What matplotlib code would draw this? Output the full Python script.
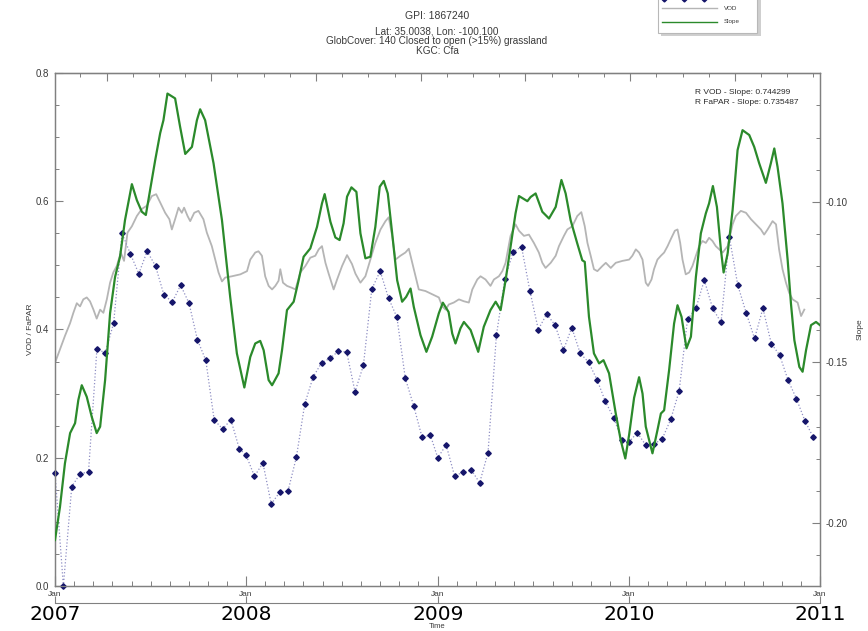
import datetime as dt
import matplotlib
matplotlib.use('Agg')
import matplotlib.pyplot as plt
import matplotlib.dates as mdates
from matplotlib.ticker import MultipleLocator, FixedLocator, NullFormatter, FormatStrFormatter
from matplotlib.patches import Rectangle
from matplotlib.lines import Line2D

plt.rcParams['font.family'] = ['Liberation Sans', 'DejaVu Sans']

# ---------------- data ----------------
vod_t = [2007.000, 2007.026, 2007.052, 2007.079, 2007.096, 2007.114, 2007.131, 2007.148, 2007.166, 2007.183,
         2007.201, 2007.218, 2007.236, 2007.253, 2007.271, 2007.288, 2007.305, 2007.323, 2007.344, 2007.361,
         2007.379, 2007.402, 2007.428, 2007.454, 2007.480, 2007.506, 2007.529, 2007.550, 2007.576, 2007.598,
         2007.611, 2007.628, 2007.646, 2007.663, 2007.675, 2007.693, 2007.707, 2007.728, 2007.750, 2007.776,
         2007.794, 2007.820, 2007.838, 2007.855, 2007.873, 2007.890, 2007.925, 2007.969, 2008.004, 2008.021,
         2008.047, 2008.064, 2008.082, 2008.099, 2008.117, 2008.135, 2008.152, 2008.169, 2008.178, 2008.192,
         2008.213, 2008.239, 2008.257, 2008.283, 2008.309, 2008.335, 2008.361, 2008.379, 2008.396, 2008.414,
         2008.431, 2008.457, 2008.475, 2008.501, 2008.527, 2008.553, 2008.571, 2008.597, 2008.623, 2008.649,
         2008.675, 2008.702, 2008.728, 2008.745, 2008.763, 2008.780, 2008.806, 2008.832, 2008.850, 2008.876,
         2008.902, 2008.937, 2008.972, 2009.007, 2009.025, 2009.042, 2009.059, 2009.085, 2009.112, 2009.138,
         2009.164, 2009.182, 2009.208, 2009.225, 2009.251, 2009.277, 2009.295, 2009.321, 2009.339, 2009.356,
         2009.382, 2009.408, 2009.426, 2009.452, 2009.478, 2009.504, 2009.530, 2009.548, 2009.565, 2009.592,
         2009.618, 2009.635, 2009.661, 2009.679, 2009.705, 2009.731, 2009.752, 2009.770, 2009.784, 2009.801,
         2009.818, 2009.836, 2009.862, 2009.880, 2009.906, 2009.932, 2009.967, 2010.002, 2010.019, 2010.037,
         2010.054, 2010.072, 2010.089, 2010.101, 2010.119, 2010.132, 2010.150, 2010.168, 2010.185, 2010.203,
         2010.220, 2010.241, 2010.255, 2010.269, 2010.281, 2010.298, 2010.316, 2010.333, 2010.351, 2010.368,
         2010.386, 2010.403, 2010.420, 2010.438, 2010.455, 2010.473, 2010.491, 2010.517, 2010.543, 2010.560,
         2010.586, 2010.613, 2010.639, 2010.665, 2010.691, 2010.708, 2010.726, 2010.752, 2010.770, 2010.786,
         2010.804, 2010.822, 2010.839, 2010.857, 2010.883, 2010.901, 2010.918]
vod_v = [0.348, 0.369, 0.390, 0.410, 0.426, 0.441, 0.436, 0.447, 0.450, 0.444,
         0.431, 0.417, 0.431, 0.426, 0.447, 0.473, 0.489, 0.499, 0.520, 0.507,
         0.551, 0.561, 0.577, 0.588, 0.593, 0.608, 0.611, 0.598, 0.582, 0.572,
         0.556, 0.572, 0.590, 0.582, 0.590, 0.577, 0.569, 0.582, 0.585, 0.572,
         0.551, 0.530, 0.509, 0.489, 0.475, 0.481, 0.483, 0.486, 0.491, 0.509,
         0.520, 0.522, 0.515, 0.483, 0.468, 0.4625, 0.468, 0.476, 0.494, 0.473,
         0.468, 0.465, 0.4625, 0.489, 0.499, 0.512, 0.515, 0.525, 0.530, 0.504,
         0.487, 0.4625, 0.478, 0.499, 0.516, 0.502, 0.487, 0.473, 0.483, 0.509,
         0.535, 0.556, 0.569, 0.575, 0.546, 0.509, 0.515, 0.520, 0.526, 0.494,
         0.4625, 0.460, 0.455, 0.450, 0.436, 0.431, 0.439, 0.442, 0.447, 0.444,
         0.442, 0.4625, 0.478, 0.483, 0.478, 0.468, 0.478, 0.483, 0.491, 0.504,
         0.546, 0.564, 0.554, 0.546, 0.548, 0.535, 0.520, 0.504, 0.496, 0.504,
         0.515, 0.530, 0.546, 0.556, 0.561, 0.577, 0.583, 0.561, 0.535, 0.515,
         0.494, 0.491, 0.499, 0.504, 0.496, 0.504, 0.507, 0.509, 0.515, 0.525,
         0.520, 0.509, 0.473, 0.468, 0.478, 0.494, 0.509, 0.515, 0.520, 0.530,
         0.541, 0.554, 0.556, 0.535, 0.509, 0.486, 0.489, 0.499, 0.515, 0.530,
         0.538, 0.535, 0.543, 0.538, 0.530, 0.525, 0.520, 0.530, 0.564, 0.577,
         0.585, 0.582, 0.572, 0.564, 0.556, 0.548, 0.556, 0.569, 0.564, 0.525,
         0.494, 0.473, 0.457, 0.447, 0.442, 0.421, 0.431]

slope_t = [2007.000, 2007.026, 2007.052, 2007.079, 2007.105, 2007.122, 2007.140, 2007.166, 2007.192, 2007.218,
           2007.236, 2007.262, 2007.288, 2007.314, 2007.340, 2007.366, 2007.402, 2007.428, 2007.454, 2007.475,
           2007.497, 2007.524, 2007.550, 2007.567, 2007.588, 2007.628, 2007.654, 2007.681, 2007.716, 2007.742,
           2007.759, 2007.785, 2007.829, 2007.873, 2007.916, 2007.951, 2007.990, 2008.021, 2008.047, 2008.073,
           2008.091, 2008.117, 2008.135, 2008.169, 2008.187, 2008.213, 2008.248, 2008.274, 2008.300, 2008.335,
           2008.370, 2008.396, 2008.410, 2008.440, 2008.466, 2008.488, 2008.509, 2008.527, 2008.550, 2008.576,
           2008.597, 2008.623, 2008.649, 2008.675, 2008.698, 2008.719, 2008.740, 2008.763, 2008.789, 2008.815,
           2008.836, 2008.859, 2008.876, 2008.911, 2008.942, 2008.972, 2009.007, 2009.028, 2009.058, 2009.077,
           2009.094, 2009.120, 2009.138, 2009.173, 2009.213, 2009.242, 2009.277, 2009.304, 2009.330, 2009.356,
           2009.382, 2009.408, 2009.426, 2009.445, 2009.470, 2009.487, 2009.513, 2009.548, 2009.583, 2009.618,
           2009.648, 2009.670, 2009.696, 2009.731, 2009.757, 2009.770, 2009.792, 2009.818, 2009.845, 2009.868,
           2009.897, 2009.932, 2009.958, 2009.982, 2010.002, 2010.028, 2010.054, 2010.072, 2010.089, 2010.124,
           2010.150, 2010.168, 2010.185, 2010.211, 2010.237, 2010.255, 2010.276, 2010.302, 2010.325, 2010.351,
           2010.377, 2010.403, 2010.420, 2010.440, 2010.461, 2010.482, 2010.496, 2010.517, 2010.543, 2010.569,
           2010.595, 2010.630, 2010.656, 2010.682, 2010.717, 2010.743, 2010.761, 2010.778, 2010.804, 2010.831,
           2010.848, 2010.866, 2010.892, 2010.909, 2010.927, 2010.953, 2010.979, 2011.000]
slope_v = [-0.2053, -0.1950, -0.1814, -0.1720, -0.1689, -0.1617, -0.1571, -0.1607, -0.1669, -0.1720,
           -0.1700, -0.1555, -0.1347, -0.1234, -0.1171, -0.1057, -0.0945, -0.0995, -0.1031, -0.1041,
           -0.0964, -0.0870, -0.0786, -0.0746, -0.0663, -0.0678, -0.0766, -0.0851, -0.0829, -0.0746,
           -0.0712, -0.0746, -0.0880, -0.1057, -0.1296, -0.1472, -0.1578, -0.1483, -0.1441, -0.1433,
           -0.1462, -0.1555, -0.1571, -0.1534, -0.1462, -0.1337, -0.1311, -0.1244, -0.1171, -0.1145,
           -0.1078, -0.1005, -0.0976, -0.1062, -0.1111, -0.1119, -0.1067, -0.0984, -0.0955, -0.0969,
           -0.1098, -0.1176, -0.1171, -0.1078, -0.0953, -0.0935, -0.0974, -0.1098, -0.1244, -0.1311,
           -0.1296, -0.1270, -0.1327, -0.1415, -0.1467, -0.1420, -0.1347, -0.1314, -0.1343, -0.1410,
           -0.1441, -0.1394, -0.1374, -0.1399, -0.1467, -0.1389, -0.1337, -0.1311, -0.1337, -0.1244,
           -0.1140, -0.1036, -0.0982, -0.0989, -0.0998, -0.0985, -0.0974, -0.1031, -0.1052, -0.1016,
           -0.0932, -0.0974, -0.1057, -0.1130, -0.1182, -0.1187, -0.1358, -0.1472, -0.1503, -0.1493,
           -0.1534, -0.1659, -0.1742, -0.1799, -0.1725, -0.1610, -0.1546, -0.1597, -0.1700, -0.1783,
           -0.1711, -0.1659, -0.1649, -0.1524, -0.1379, -0.1322, -0.1358, -0.1456, -0.1420, -0.1234,
           -0.1098, -0.1036, -0.1005, -0.0951, -0.1016, -0.1150, -0.1220, -0.1161, -0.1026, -0.0839,
           -0.0777, -0.0792, -0.0829, -0.0880, -0.0941, -0.0880, -0.0834, -0.0891, -0.1005, -0.1182,
           -0.1316, -0.1431, -0.1514, -0.1529, -0.1462, -0.1384, -0.1374, -0.1384]

fapar_years = [2007, 2008, 2009, 2010]
fapar_doy = [1, 17, 33, 49, 65, 81, 97, 113, 129, 145, 161, 177, 193, 209, 225, 241, 257, 273, 289, 305, 321, 337, 353]
fapar_2007 = [0.176, 0.000, 0.155, 0.175, 0.178, 0.369, 0.364, 0.410, 0.550, 0.518, 0.487, 0.522,
              0.499, 0.454, 0.443, 0.469, 0.441, 0.384, 0.352, 0.259, 0.245, 0.259, 0.214]
fapar_2008 = [0.204, 0.171, 0.192, 0.128, 0.146, 0.148, 0.201, 0.284, 0.326, 0.348, 0.355, 0.366,
              0.365, 0.303, 0.344, 0.463, 0.491, 0.449, 0.419, 0.324, 0.281, 0.232, 0.235]
fapar_2009 = [0.200, 0.220, 0.172, 0.177, 0.181, 0.161, 0.208, 0.391, 0.478, 0.521, 0.529, 0.460,
              0.400, 0.424, 0.407, 0.368, 0.403, 0.363, 0.349, 0.322, 0.288, 0.262, 0.227]
fapar_2010 = [0.2245, 0.239, 0.220, 0.221, 0.230, 0.260, 0.304, 0.416, 0.433, 0.477, 0.433, 0.411,
              0.544, 0.469, 0.426, 0.386, 0.433, 0.378, 0.360, 0.321, 0.292, 0.258, 0.232]

title_lines = ["GPI: 1867240", "Lat: 35.0038, Lon: -100.100",
               "GlobCover: 140 Closed to open (>15%) grassland", "KGC: Cfa"]
r_text = ["R VOD - Slope: 0.744299", "R FaPAR - Slope: 0.735487"]

# ---------------- helpers ----------------
W, H = 868, 631
BASE = mdates.date2num(dt.datetime(2007, 1, 1))


def dec2num(t):
    return [BASE + (v - 2007.0) * 365.25 for v in t]


def fx(x):
    return x / W


def fy(y):
    return 1 - y / H


fapar_x, fapar_v = [], []
for yr, vals in zip(fapar_years, [fapar_2007, fapar_2008, fapar_2009, fapar_2010]):
    for d, v in zip(fapar_doy, vals):
        fapar_x.append(mdates.date2num(dt.datetime(yr, 1, 1) + dt.timedelta(days=d - 1)))
        fapar_v.append(v)

GRAY = '#b5b5b5'
GREEN = '#2b8a2b'
NAVY = '#15156a'
DOT = '#8f8fc4'
SPINE = '#808080'
TXT = '#3a3a3a'

fig = plt.figure(figsize=(W / 100, H / 100), dpi=100)
ax = fig.add_axes([fx(55), fy(586), (820 - 55) / W, (586 - 73) / H])

ax.plot(dec2num(vod_t), vod_v, color=GRAY, lw=1.3, zorder=2)
ax.plot(fapar_x, fapar_v, color=DOT, lw=0.9, ls=':', zorder=3)
ax.plot(fapar_x, fapar_v, ls='none', marker='D', ms=2.8, mfc=NAVY, mec=NAVY, zorder=4, clip_on=False)

x0 = mdates.date2num(dt.datetime(2007, 1, 1))
x1 = mdates.date2num(dt.datetime(2011, 1, 1))
ax.set_xlim(x0, x1)
ax.set_ylim(0, 0.8)

for s in ax.spines.values():
    s.set_color(SPINE)
    s.set_linewidth(0.9)

ax.yaxis.set_major_locator(MultipleLocator(0.2))
ax.yaxis.set_minor_locator(MultipleLocator(0.05))
ax.yaxis.set_major_formatter(FormatStrFormatter('%.1f'))
ax.tick_params(axis='y', which='major', direction='in', length=6, width=0.8, color=SPINE,
               labelsize=7, labelcolor=TXT, pad=4, right=False)
ax.tick_params(axis='y', which='minor', direction='in', length=3, width=0.7, color=SPINE, right=False)

ax.xaxis.set_major_locator(mdates.YearLocator())
ax.xaxis.set_major_formatter(mdates.DateFormatter('%b'))
minor_pos = []
for yr in range(2007, 2011):
    b = mdates.date2num(dt.datetime(yr, 1, 1))
    for k in range(1, 10):
        minor_pos.append(b + k * 365.25 / 10)
ax.xaxis.set_minor_locator(FixedLocator(minor_pos))
ax.tick_params(axis='x', which='major', direction='in', length=7, width=0.8, color=SPINE,
               labelsize=6, labelcolor=TXT, pad=3.5, top=False)
ax.tick_params(axis='x', which='minor', direction='in', length=3.5, width=0.7, color=SPINE, top=False)
ax.set_ylabel('VOD / FaPAR', fontsize=6, color=TXT)
ax.yaxis.set_label_coords((34 - 55) / 765, 0.5)

# top axis (Julian day ticks, unlabeled)
top = ax.secondary_xaxis('top', functions=(lambda x: x + 2440587.5, lambda j: j - 2440587.5))
top.xaxis.set_major_locator(MultipleLocator(200))
top.xaxis.set_minor_locator(MultipleLocator(50))
top.xaxis.set_major_formatter(NullFormatter())
top.tick_params(which='major', direction='in', length=6, width=0.8, color=SPINE)
top.tick_params(which='minor', direction='in', length=3, width=0.7, color=SPINE)
top.spines['top'].set_color(SPINE)

# year axis below
yax = ax.secondary_xaxis((586 - 602.7) / 513)
yax.xaxis.set_major_locator(mdates.YearLocator())
yax.xaxis.set_major_formatter(mdates.DateFormatter('%Y'))
yax.tick_params(which='major', direction='in', length=5, width=0.8, color=SPINE,
                labelsize=14.5, labelcolor='black', pad=2)
yax.xaxis.set_tick_params(labelfontfamily='DejaVu Sans')
yax.spines['bottom'].set_color(SPINE)
fig.text(fx(437), fy(627), 'Time', ha='center', va='center', fontsize=5.5, color=TXT)

# right axis: slope
ax2 = ax.twinx()
ax2.plot(dec2num(slope_t), slope_v, color=GREEN, lw=1.6, zorder=5)
ax2.set_ylim(-0.2196, -0.0599)
ax2.yaxis.set_major_locator(MultipleLocator(0.05))
ax2.yaxis.set_minor_locator(MultipleLocator(0.01))
ax2.yaxis.set_major_formatter(FormatStrFormatter('%.2f'))
ax2.tick_params(axis='y', which='major', direction='in', length=6, width=0.8, color=SPINE,
                labelsize=7, labelcolor=TXT, pad=4)
ax2.tick_params(axis='y', which='minor', direction='in', length=3, width=0.7, color=SPINE)
for s in ax2.spines.values():
    s.set_color(SPINE)
    s.set_linewidth(0.9)
ax2.set_ylabel('Slope', fontsize=6, color=TXT)
ax2.yaxis.set_label_coords((857 - 55) / 765, 0.5)

# titles
fig.text(fx(437), fy(19), title_lines[0], ha='center', va='baseline', fontsize=7.5, color=TXT)
for line, yy in zip(title_lines[1:], [34.5, 44.5, 54.5]):
    fig.text(fx(437), fy(yy), line, ha='center', va='baseline', fontsize=7.2, color=TXT)

# correlation text
fig.text(fx(695), fy(93), r_text[0], ha='left', va='center', fontsize=6, color='#2a2a2a')
fig.text(fx(695), fy(102), r_text[1], ha='left', va='center', fontsize=6, color='#2a2a2a')

# legend box (partially cut at top)
fig.add_artist(Rectangle((fx(661), fy(36)), (761 - 661) / W, (36 + 10) / H,
                         transform=fig.transFigure, facecolor='#cfcfcf', edgecolor='none', zorder=10))
fig.add_artist(Rectangle((fx(658), fy(33)), (757 - 658) / W, (33 + 10) / H,
                         transform=fig.transFigure, facecolor='white', edgecolor='#b8b8b8', lw=0.8, zorder=11))
fig.add_artist(Line2D([fx(662), fx(717)], [fy(-1.5), fy(-1.5)], transform=fig.transFigure,
                      color=DOT, lw=0.9, ls=':', zorder=12))
fig.add_artist(Line2D([fx(664), fx(684), fx(704)], [fy(-1.5)] * 3, transform=fig.transFigure,
                      ls='none', marker='D', ms=2.5, mfc=NAVY, mec=NAVY, zorder=12))
fig.add_artist(Line2D([fx(662), fx(717)], [fy(8.3), fy(8.3)], transform=fig.transFigure,
                      color=GRAY, lw=1.0, zorder=12))
fig.add_artist(Line2D([fx(662), fx(717)], [fy(21.7), fy(21.7)], transform=fig.transFigure,
                      color=GREEN, lw=1.0, zorder=12))
fig.text(fx(724), fy(8.3), 'VOD', fontsize=4.5, va='center', ha='left', color=TXT, zorder=13)
fig.text(fx(724), fy(21.7), 'Slope', fontsize=4.5, va='center', ha='left', color=TXT, zorder=13)

fig.savefig('out.png', dpi=100)
